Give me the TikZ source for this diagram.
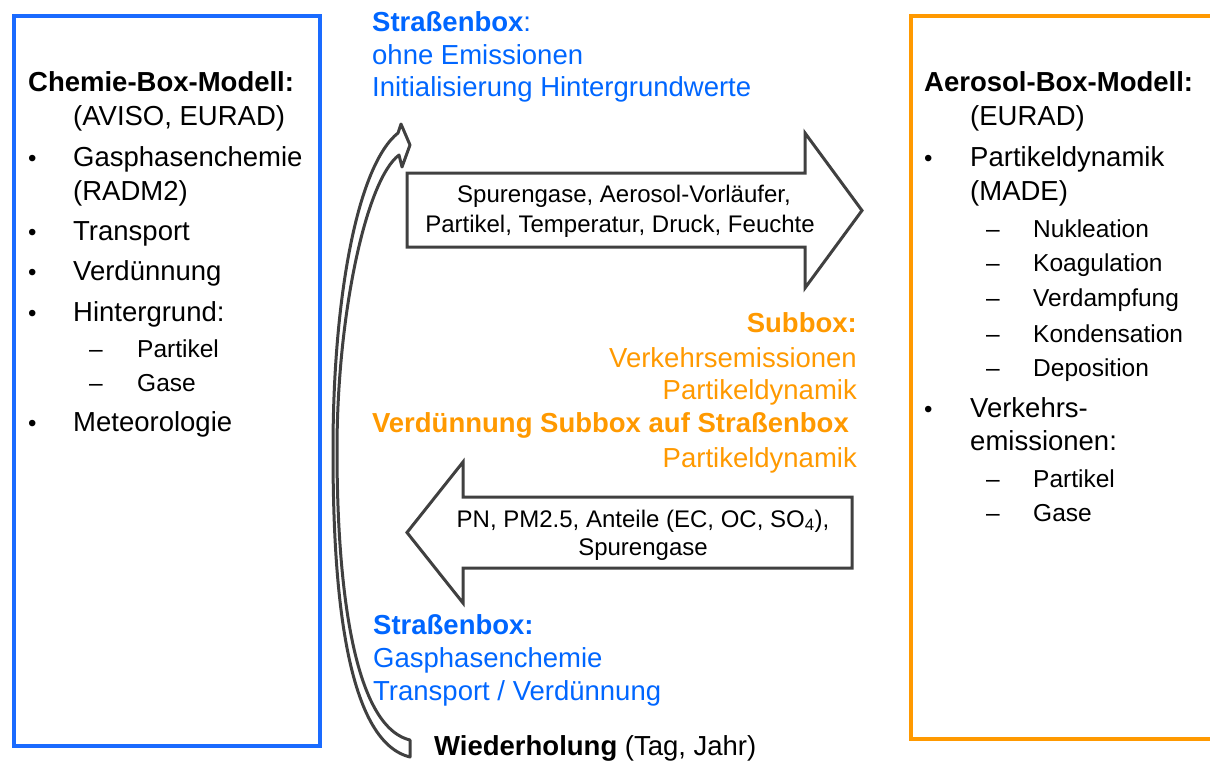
\documentclass[tikz,border=0pt]{standalone}
\usepackage{fontspec}
\setmainfont{Liberation Sans}
\definecolor{txtblue}{HTML}{0066FF}
\definecolor{txtorange}{HTML}{FF9900}
\definecolor{boxblue}{HTML}{1A6BFF}
\definecolor{boxorange}{HTML}{FF9900}
\definecolor{arrowgray}{HTML}{404040}
\tikzset{
  maintxt/.style={anchor=base west, inner sep=0pt, font=\fontsize{27.5}{33}\selectfont},
  maintxtr/.style={anchor=base east, inner sep=0pt, font=\fontsize{27.5}{33}\selectfont},
  subtxt/.style={anchor=base west, inner sep=0pt, font=\fontsize{24.5}{29}\selectfont},
  bulletmark/.style={anchor=base west, inner sep=0pt, font=\fontsize{24}{29}\selectfont},
  arrowtxt/.style={anchor=base, inner sep=0pt, font=\fontsize{24}{29}\selectfont},
  modelbox/.style={line width=4.5pt},
  bigarrow/.style={draw=arrowgray, line width=3pt, line join=miter},
  loopline/.style={draw=arrowgray, line width=3pt, line join=round}
}
\begin{document}
\begin{tikzpicture}[x=1pt,y=-1pt]
\useasboundingbox (0,0) rectangle (1210,765);

% model boxes
\draw[modelbox, draw=boxblue] (14,16) rectangle (320,746);
\draw[modelbox, draw=boxorange] (911,16) rectangle (1240,739);

% left box text
\node[maintxt] (c0) at (28,92) {\textbf{Chemie-Box-Modell:}};
\node[maintxt] (c1) at (73,126) {(AVISO, EURAD)};
\node[bulletmark] (cb1) at (28,166) {•};
\node[maintxt] (c2) at (73,166) {Gasphasenchemie};
\node[maintxt] (c3) at (73,200) {(RADM2)};
\node[bulletmark] (cb2) at (28,240) {•};
\node[maintxt] (c4) at (73,240) {Transport};
\node[bulletmark] (cb3) at (28,280) {•};
\node[maintxt] (c5) at (73,280) {Verdünnung};
\node[bulletmark] (cb4) at (28,321) {•};
\node[maintxt] (c6) at (73,321) {Hintergrund:};
\node[subtxt] (cd1) at (89,357) {–};
\node[subtxt] (c7) at (137,357) {Partikel};
\node[subtxt] (cd2) at (89,391) {–};
\node[subtxt] (c8) at (137,391) {Gase};
\node[bulletmark] (cb5) at (28,431) {•};
\node[maintxt] (c9) at (73,431) {Meteorologie};

% right box text
\node[maintxt] (a0) at (924,92) {\textbf{Aerosol-Box-Modell:}};
\node[maintxt] (a1) at (970,126) {(EURAD)};
\node[bulletmark] (ab1) at (924,166) {•};
\node[maintxt] (a2) at (970,166) {Partikeldynamik};
\node[maintxt] (a3) at (970,200) {(MADE)};
\node[subtxt] (ad1) at (986,237) {–};
\node[subtxt] (a4) at (1033,237) {Nukleation};
\node[subtxt] (ad2) at (986,271) {–};
\node[subtxt] (a5) at (1033,271) {Koagulation};
\node[subtxt] (ad3) at (986,306) {–};
\node[subtxt] (a6) at (1033,306) {Verdampfung};
\node[subtxt] (ad4) at (986,342) {–};
\node[subtxt] (a7) at (1033,342) {Kondensation};
\node[subtxt] (ad5) at (986,376) {–};
\node[subtxt] (a8) at (1033,376) {Deposition};
\node[bulletmark] (ab2) at (924,417) {•};
\node[maintxt] (a9) at (970,417) {Verkehrs-};
\node[maintxt] (a10) at (970,450) {emissionen:};
\node[subtxt] (ad6) at (986,487) {–};
\node[subtxt] (a11) at (1033,487) {Partikel};
\node[subtxt] (ad7) at (986,521) {–};
\node[subtxt] (a12) at (1033,521) {Gase};

% top blue text
\node[maintxt, text=txtblue] (s0) at (372,32) {\textbf{Straßenbox}:};
\node[maintxt, text=txtblue] (s1) at (372,65) {ohne Emissionen};
\node[maintxt, text=txtblue] (s2) at (372,97) {Initialisierung Hintergrundwerte};

% right arrow
\draw[bigarrow] (407,173) -- (805,173) -- (805,133) -- (862,210.5) -- (805,288) -- (805,247) -- (407,247) -- cycle;
\node[arrowtxt] (r1) at (624,202) {Spurengase,  Aerosol-Vorläufer,};
\node[arrowtxt] (r2) at (620,232) {Partikel, Temperatur, Druck, Feuchte};

% orange text
\node[maintxtr, text=txtorange] (o0) at (857,332) {\textbf{Subbox:}};
\node[maintxtr, text=txtorange] (o1) at (857,367) {Verkehrsemissionen};
\node[maintxtr, text=txtorange] (o2) at (857,399) {Partikeldynamik};
\node[maintxtr, text=txtorange] (o3) at (849,432) {\textbf{Verdünnung Subbox auf Straßenbox}};
\node[maintxtr, text=txtorange] (o4) at (857,467) {Partikeldynamik};

% left arrow
\draw[bigarrow] (852,497) -- (463,497) -- (463,462) -- (407,532.5) -- (463,603) -- (463,568) -- (852,568) -- cycle;
\node[arrowtxt] (l1) at (643,527) {PN, PM2.5, Anteile (EC, OC, SO\textsubscript{4}),};
\node[arrowtxt] (l2) at (643,555) {Spurengase};

% bottom blue text
\node[maintxt, text=txtblue] (b0) at (373,634) {\textbf{Straßenbox:}};
\node[maintxt, text=txtblue] (b1) at (373,667) {Gasphasenchemie};
\node[maintxt, text=txtblue] (b2) at (373,700) {Transport / Verdünnung};
\node[maintxt] (w0) at (434,755) {\textbf{Wiederholung} (Tag, Jahr)};

% loop arrow
\draw[loopline] (410,757) .. controls (340,740) and (333,560) .. (333,450)
  .. controls (333,295) and (358,165) .. (398,133) -- (401,124) -- (410,145)
  -- (402,167) -- (399,155) .. controls (366,180) and (337,315) .. (337,450)
  .. controls (337,560) and (348,725) .. (410,740) -- cycle;
\end{tikzpicture}
\end{document}
